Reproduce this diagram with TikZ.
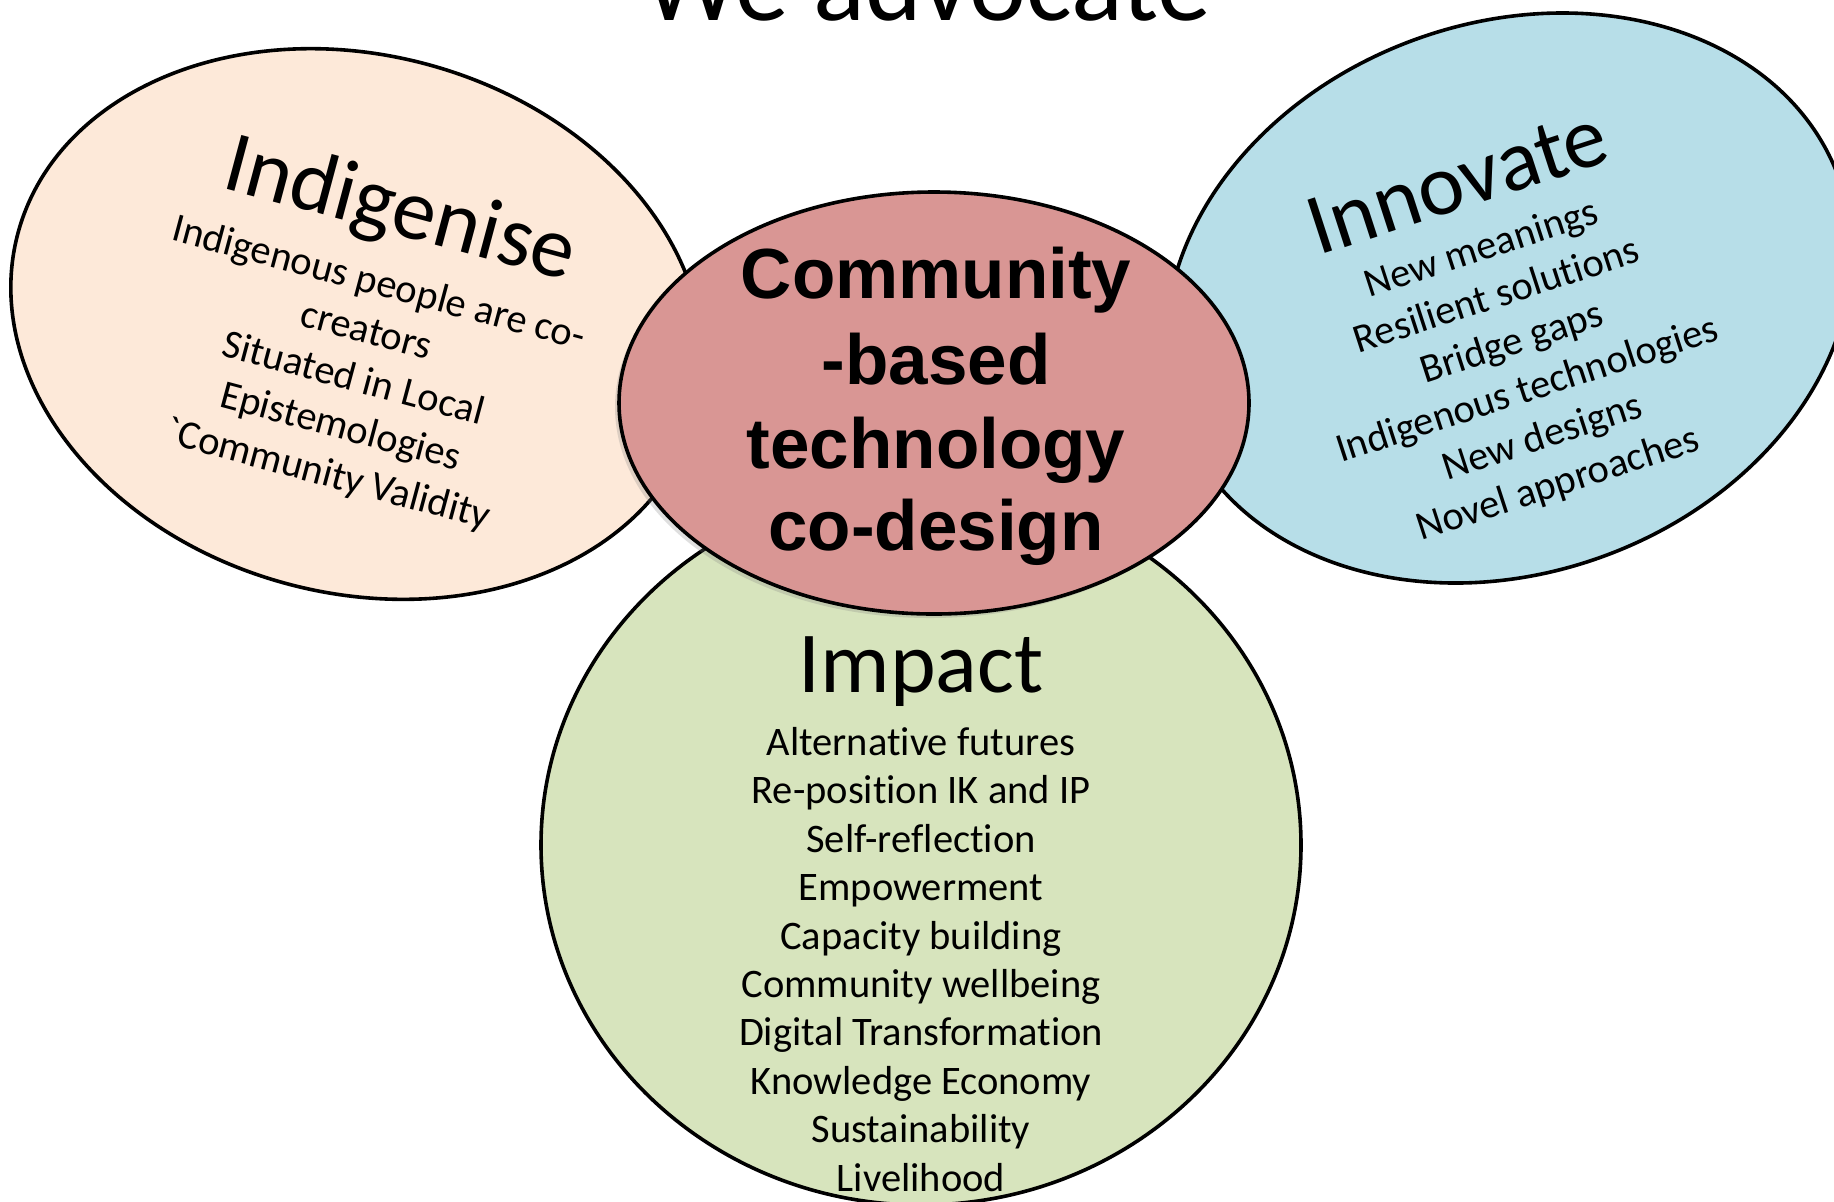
\documentclass[tikz,border=0pt]{standalone}
\usepackage{fontspec}
\newfontfamily\gs{Carlito}[Ligatures=NoCommon]
\newfontfamily\arb{Liberation Sans}
\usetikzlibrary{shapes.geometric,shadows}
\definecolor{peach}{HTML}{FDE9D9}
\definecolor{aqua}{HTML}{B7DEE8}
\definecolor{olive}{HTML}{D7E4BD}
\definecolor{rose}{HTML}{D99694}
\begin{document}
\begin{tikzpicture}[x=0.5pt,y=-0.5pt,
  blob/.style={ellipse, draw=black, line width=1.8pt, inner sep=0pt},
  body/.style={font=\gs\fontsize{20.25}{24}\selectfont, inner sep=0pt, anchor=base},
  head/.style={font=\gs\fontsize{43.5}{50}\selectfont, inner sep=0pt, anchor=base},
  core/.style={font=\arb\bfseries\fontsize{35.5}{40}\selectfont, inner sep=0pt, anchor=base}]
\path[use as bounding box, fill=white] (0,0) rectangle (1834,1201);
% ellipses
\node[blob, fill=peach, minimum width=351pt, minimum height=269pt, rotate=-15] (ind) at (357,324) {};
\node[blob, fill=aqua, minimum width=351pt, minimum height=275pt, rotate=20] (inn) at (1509,298) {};
\node[blob, fill=olive, minimum width=380pt, minimum height=360pt] (imp) at (921,845) {};
\node[blob, fill=rose, minimum width=315pt, minimum height=211pt,
      drop shadow={opacity=0.25, shadow xshift=-2pt, shadow yshift=-2pt}] (core) at (934,403) {};
% title
\node[font=\gs\fontsize{54}{60}\selectfont, anchor=base, inner sep=0pt] (title) at (927,20) {We advocate};
% Indigenise
\node[head, rotate=-15] (indT) at (394,234) {Indigenise};
\foreach \t [count=\i from 0] in {Indigenous people are co-, creators, Situated in Local, Epistemologies, `Community Validity}
  \node[body, rotate=-15] (indL\i) at ({376-\i*49.4*sin(15)}, {295+\i*49.4*cos(15)}) {\t};
% Innovate
\node[head, rotate=18] (innT) at (1466,208) {Innovate};
\foreach \t [count=\i from 0] in {New meanings, Resilient solutions, Bridge gaps, Indigenous technologies, New designs, Novel approaches}
  \node[body, rotate=18] (innL\i) at ({1485+\i*49.5*sin(18)}, {260+\i*49.5*cos(18)}) {\t};
% Impact
\node[head] (impT) at (921,692) {Impact};
\foreach \t [count=\i from 0] in {Alternative futures, Re-position IK and IP, Self-reflection, Empowerment, Capacity building, Community wellbeing, Digital Transformation, Knowledge Economy, Sustainability, Livelihood}
  \node[body] (impL\i) at (921, {755.5+\i*48.4}) {\t};
% core
\node[core] (c1) at (936,298) {Community};
\node[core] (c2) at (936,384) {-based};
\node[core] (c3) at (936,468) {technology};
\node[core] (c4) at (936,550) {co-design};
\end{tikzpicture}
\end{document}
